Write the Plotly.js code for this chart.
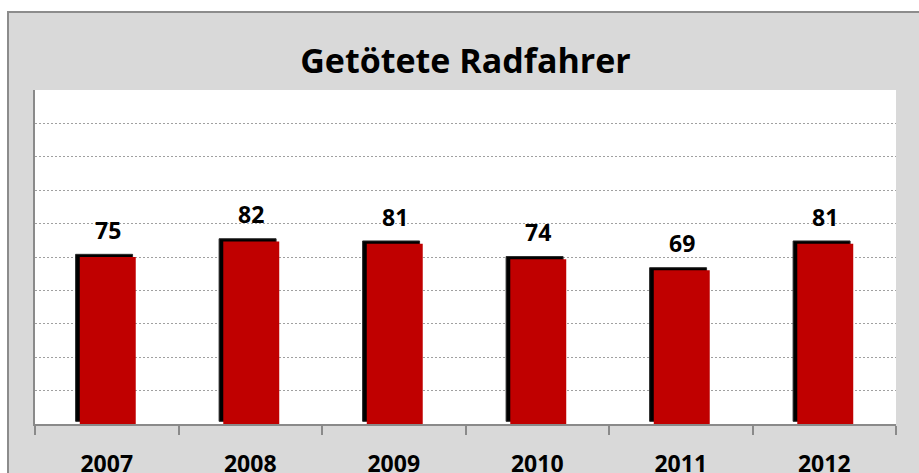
<!DOCTYPE html>
<html>
<head>
<meta charset="utf-8">
<script src="https://cdn.plot.ly/plotly-3.0.1.min.js"></script>
<style>
  html, body { margin: 0; padding: 0; background: #ffffff; }
  #wrap { position: relative; width: 919px; height: 473px; overflow: hidden; background: #ffffff; }
  #frame { position: absolute; left: 7px; top: 11px; width: 920px; height: 470px;
           background: #d9d9d9; border-left: 2px solid #8c8c8c; border-top: 2px solid #8c8c8c; }
  #chart { position: absolute; left: 0; top: 0; width: 919px; height: 473px; }
</style>
</head>
<body>
<div id="wrap">
  <div id="frame"></div>
  <div id="chart"></div>
</div>
<script>
// Data
const years = ["2007", "2008", "2009", "2010", "2011", "2012"];
const killed = [75, 82, 81, 74, 69, 81];
const chartTitle = "Getötete Radfahrer";

const FONT = "'Open Sans', Lato, sans-serif";

// drop shadow behind each bar (drawn on a slightly shifted axis)
const shadow = {
  type: "bar",
  x: years,
  y: killed,
  base: -1,
  yaxis: "y",
  width: 0.397,
  offset: -0.217,
  marker: { color: "#000000", line: { width: 1, color: "#2a2a2a" } },
  hoverinfo: "skip",
  showlegend: false
};

const bars = {
  type: "bar",
  x: years,
  y: killed,
  yaxis: "y2",
  width: 0.39,
  offset: -0.188,
  marker: { color: "#c00000", line: { width: 0 } },
  showlegend: false
};

const annotations = years.map((yr, i) => ({
  x: i, y: killed[i], xref: "x", yref: "y2",
  text: String(killed[i]),
  showarrow: false,
  yanchor: "bottom",
  xshift: 1,
  yshift: 9,
  font: { family: FONT, size: 23, color: "#000000", weight: "bold" }
}));

const layout = {
  width: 919,
  height: 473,
  margin: { l: 35, r: 23, t: 90, b: 49 },
  paper_bgcolor: "rgba(0,0,0,0)",
  plot_bgcolor: "#ffffff",
  barmode: "overlay",
  showlegend: false,
  title: {
    text: chartTitle,
    x: 0.5, xref: "paper",
    y: 1 - 61 / 473, yref: "container", yanchor: "middle",
    font: { family: FONT, size: 34, color: "#000000", weight: "bold" }
  },
  xaxis: {
    type: "category",
    categoryorder: "array",
    categoryarray: years,
    range: [-0.5, 5.5],
    autorange: false,
    tickson: "boundaries",
    ticks: "outside",
    ticklen: 9,
    tickwidth: 2,
    tickcolor: "#8a8a8a",
    showline: true,
    linecolor: "#8a8a8a",
    linewidth: 2,
    showgrid: false,
    zeroline: false,
    ticklabelstandoff: 18,
    tickangle: 0,
    tickfont: { family: FONT, size: 23, color: "#000000", weight: "bold" },
    fixedrange: true
  },
  yaxis: {
    range: [-2.2, 147.8],
    autorange: false,
    showticklabels: false,
    ticks: "",
    showgrid: false,
    zeroline: false,
    showline: true,
    linecolor: "#8a8a8a",
    linewidth: 2,
    fixedrange: true
  },
  yaxis2: {
    overlaying: "y",
    side: "left",
    range: [0, 150],
    autorange: false,
    dtick: 15,
    showticklabels: false,
    ticks: "",
    showgrid: true,
    gridcolor: "#a0a0a0",
    griddash: "2px,2px",
    gridwidth: 1,
    zeroline: false,
    showline: false,
    fixedrange: true
  },
  annotations: annotations
};

Plotly.newPlot("chart", [shadow, bars], layout, { displayModeBar: false, staticPlot: true });
</script>
</body>
</html>
